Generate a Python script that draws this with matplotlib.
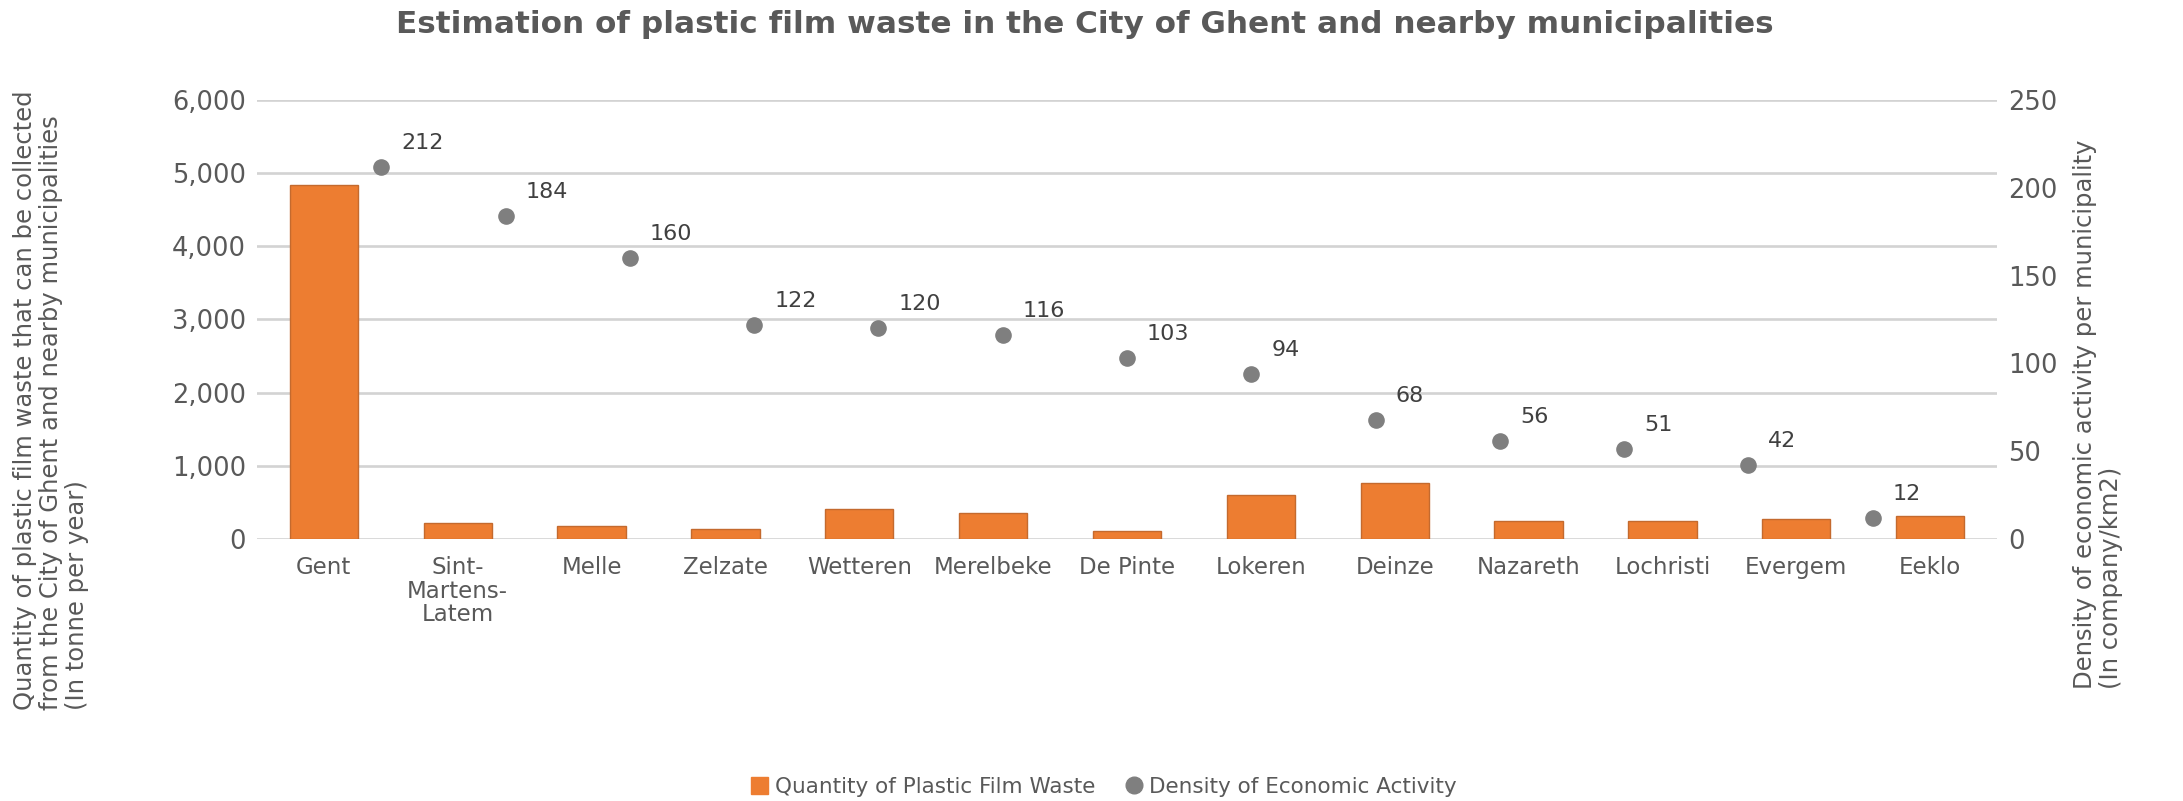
import numpy as np
import matplotlib
matplotlib.use("Agg")
import matplotlib.pyplot as plt
from matplotlib.lines import Line2D
from matplotlib.patches import Patch

# data
towns = ["Gent", "Sint-\nMartens-\nLatem", "Melle", "Zelzate", "Wetteren", "Merelbeke",
         "De Pinte", "Lokeren", "Deinze", "Nazareth", "Lochristi", "Evergem", "Eeklo"]
waste = [4840, 212, 171, 132, 414, 362, 113, 595, 770, 250, 248, 270, 315]
density = [212, 184, 160, 122, 120, 116, 103, 94, 68, 56, 51, 42, 12]

orange = "#ED7D31"
dotgrey = "#7F7F7F"
txt = "#595959"
grid = "#D3D3D3"

plt.rcParams["font.family"] = "DejaVu Sans"

fig = plt.figure(figsize=(21.83, 8.01), dpi=100)
rect = [0.1177, 0.3271, 0.7971, 0.5481]

# bars on the left axis
ax = fig.add_axes(rect)
x = np.arange(len(towns))
ax.bar(x, waste, width=0.51, color=orange, edgecolor="#C46A2E", linewidth=1, zorder=3)
ax.set_xlim(-0.5, len(towns) - 0.5)
ax.set_ylim(0, 6000)
ax.set_yticks(np.arange(0, 6001, 1000))
ax.set_yticklabels([f"{v:,}" for v in range(0, 6001, 1000)])
ax.set_xticks(x)
ax.set_xticklabels(towns, linespacing=1.05)
ax.yaxis.grid(True, color=grid, linewidth=1.9, zorder=0)
ax.set_axisbelow(True)
for s in ax.spines.values():
    s.set_visible(False)
ax.tick_params(axis="y", length=0, labelsize=18.5, colors=txt, pad=8)
ax.tick_params(axis="x", length=0, labelsize=16.5, colors=txt, pad=12)

# dots on the secondary axis (its own x scale, like the original combo chart)
ax2 = fig.add_axes(rect)
ax2.patch.set_visible(False)
xs = np.arange(1, len(density) + 1)
ax2.scatter(xs, density, s=120, color=dotgrey, zorder=4)
ax2.set_xlim(0, len(density) + 1)
ax2.set_ylim(0, 250)
ax2.set_xticks([])
ax2.yaxis.tick_right()
ax2.set_yticks(np.arange(0, 251, 50))
for s in ax2.spines.values():
    s.set_visible(False)
ax2.tick_params(axis="y", length=0, labelsize=18.5, colors=txt, pad=8)
for xi, v in zip(xs, density):
    ax2.annotate(str(v), (xi, v), xytext=(20, 24), textcoords="offset pixels",
                 ha="left", va="center", fontsize=16, color="#404040")

fig.text(0.497, 0.970, "Estimation of plastic film waste in the City of Ghent and nearby municipalities",
         ha="center", va="center", fontsize=22.4, fontweight="bold", color=txt)

fig.text(0.0234, 0.1136,
         "Quantity of plastic film waste that can be collected\nfrom the City of Ghent and nearby municipalities\n(In tonne per year)",
         rotation=90, ha="center", va="bottom", multialignment="left",
         fontsize=17.5, color=txt, linespacing=1.12)
fig.text(0.961, 0.14,
         "Density of economic activity per municipality\n(In company/km2)",
         rotation=90, ha="center", va="bottom", multialignment="left",
         fontsize=17.5, color=txt, linespacing=1.12)

handles = [Patch(facecolor=orange, edgecolor=orange),
           Line2D([], [], marker="o", linestyle="", color=dotgrey, markersize=12)]
fig.legend(handles, ["Quantity of Plastic Film Waste", "Density of Economic Activity"],
           loc="center", bbox_to_anchor=(0.5057, 0.0175), ncol=2, frameon=False,
           fontsize=15.5, labelcolor=txt, handlelength=0.8, handleheight=0.8,
           handletextpad=0.3, columnspacing=1.4)

fig.savefig("out.png", dpi=100)
